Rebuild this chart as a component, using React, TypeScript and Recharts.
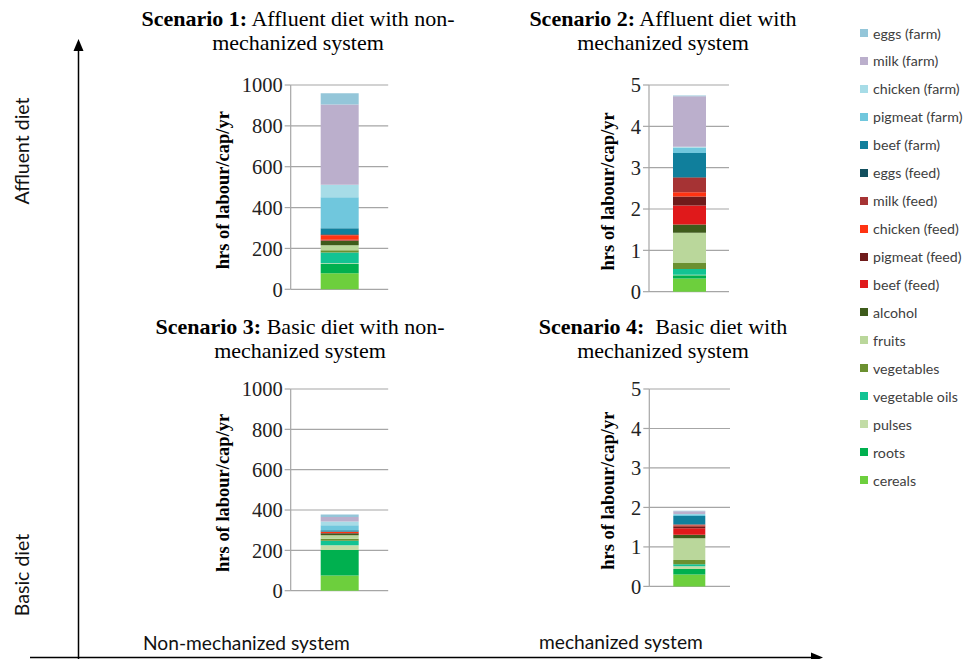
import { BarChart, Bar, XAxis, YAxis, CartesianGrid, Label } from 'recharts';

// stacked bottom -> top
const seriesNames = [
    'cereals', 'roots', 'pulses', 'vegetable oils', 'vegetables', 'fruits', 'alcohol',
    'beef (feed)', 'pigmeat (feed)', 'chicken (feed)', 'milk (feed)', 'eggs (feed)',
    'beef (farm)', 'pigmeat (farm)', 'chicken (farm)', 'milk (farm)', 'eggs (farm)'
];
const seriesColors = [
    '#6dcf3d', '#00b04f', '#c2dca6', '#12c393', '#6b9030', '#bad79b', '#3e5b1b',
    '#e0191b', '#6f1b1b', '#ff3312', '#a63334', '#124f5e',
    '#107f9c', '#70c7dd', '#a7dce7', '#bbafcc', '#94c6d9'
];

const scenario1 = [79, 45, 3, 53, 11, 24, 23, 2, 3, 22, 2, 4, 28, 152, 61, 393, 55];
const scenario2 = [0.32, 0.08, 0.01, 0.14, 0.145, 0.73, 0.2, 0.46, 0.22, 0.1, 0.36, 0.01, 0.58, 0.13, 0.02, 1.22, 0.02];
const scenario3 = [75, 127, 23, 22, 10, 18, 8, 1, 2, 5, 1, 2, 6, 25, 18, 22, 13];
const scenario4 = [0.3, 0.14, 0.07, 0.05, 0.11, 0.55, 0.085, 0.17, 0.05, 0.02, 0.02, 0.01, 0.21, 0.04, 0.01, 0.07, 0.01];

const ticksNonMech = [0, 200, 400, 600, 800, 1000];
const ticksMech = [0, 1, 2, 3, 4, 5];

const yLabel = 'hrs of labour/cap/yr';
const gridColor = '#a6a6a6';

function toRow(name: string, values: number[]) {
    const row: Record<string, number | string> = { name };
    seriesNames.forEach((n, i) => { row[n] = values[i]; });
    return row;
}

type PanelProps = {
    values: number[],
    ticks: number[],
    x: number, y: number, w: number, h: number,
    barSize: number,
    labelX: number
}

function Panel({ values, ticks, x, y, w, h, barSize, labelX }: PanelProps) {
    const left = labelX - 14;
    const yw = x - left;
    const top = y - 14;
    const data = [toRow('s', values)];
    return (
        <div style={{ position: 'absolute', left, top }}>
            <BarChart width={yw + w + 2} height={h + 28} data={data} margin={{ top: 14, right: 2, bottom: 14, left: 0 }}>
                <CartesianGrid vertical={false} stroke={gridColor} strokeWidth={1.2} />
                <XAxis dataKey="name" hide />
                <YAxis
                    width={yw}
                    domain={[0, ticks[ticks.length - 1]]}
                    ticks={ticks}
                    interval={0}
                    axisLine={{ stroke: gridColor, strokeWidth: 1.2 }}
                    tickLine={{ stroke: gridColor, strokeWidth: 1.2 }}
                    tickSize={6}
                    tickMargin={2}
                    tick={{ fontFamily: 'Liberation Serif', fontSize: 20.5, fill: '#222' }}
                >
                    <Label content={() => (
                        <text
                            transform={`translate(14,${14 + h / 2 + 3}) rotate(-90)`}
                            textAnchor="middle"
                            dominantBaseline="central"
                            fontFamily="Liberation Serif"
                            fontWeight="bold"
                            fontSize={18.5}
                            fill="#000"
                        >{yLabel}</text>
                    )} />
                </YAxis>
                {seriesNames.map((n, i) => (
                    <Bar key={n} dataKey={n} stackId="a" fill={seriesColors[i]} barSize={barSize} isAnimationActive={false} />
                ))}
            </BarChart>
        </div>
    );
}

function Title({ cx, top, bold, rest, line2 }: { cx: number, top: number, bold: string, rest: string, line2: string }) {
    return (
        <div style={{
            position: 'absolute', left: cx - 200, top, width: 400, textAlign: 'center',
            fontFamily: 'Liberation Serif', fontSize: 22, lineHeight: '24px', whiteSpace: 'pre', color: '#000'
        }}>
            <b>{bold}</b>{rest}<br />{line2}
        </div>
    );
}

export default function App() {
    const sans = 'Lato';
    return (
        <div style={{ position: 'absolute', left: 0, top: 0, width: 966, height: 659, background: '#fff', overflow: 'hidden' }}>
            <svg width={966} height={659} style={{ position: 'absolute', left: 0, top: 0 }}>
                <line x1={78.5} y1={50} x2={78.5} y2={659} stroke="#000" strokeWidth={1.5} />
                <polygon points="78.5,39 73.5,51 83.5,51" fill="#000" />
                <line x1={30} y1={657.5} x2={812} y2={657.5} stroke="#000" strokeWidth={1.5} />
                <polygon points="823,657.5 811,652.5 811,662.5" fill="#000" />
                <text transform="translate(29,151) rotate(-90)" textAnchor="middle" fontFamily={sans} fontSize={19.5} fill="#111">Affluent diet</text>
                <text transform="translate(29,575) rotate(-90)" textAnchor="middle" fontFamily={sans} fontSize={19.5} fill="#111">Basic diet</text>
                <text x={143} y={650} fontFamily={sans} fontSize={19.2} fill="#111">Non-mechanized system</text>
                <text x={539} y={649} fontFamily={sans} fontSize={19.2} fill="#111">mechanized system</text>
            </svg>

            <Title cx={298} top={7} bold="Scenario 1:" rest=" Affluent diet with non-" line2="mechanized system" />
            <Title cx={663} top={7} bold="Scenario 2:" rest=" Affluent diet with" line2="mechanized system" />
            <Title cx={300} top={315} bold="Scenario 3:" rest=" Basic diet with non-" line2="mechanized system" />
            <Title cx={663} top={315} bold="Scenario 4:" rest="  Basic diet with" line2="mechanized system" />

            <Panel values={scenario1} ticks={ticksNonMech} x={290.7} y={85} w={97.5} h={204.3} barSize={38} labelX={223} />
            <Panel values={scenario2} ticks={ticksMech} x={649} y={85} w={80} h={206.7} barSize={33} labelX={608} />
            <Panel values={scenario3} ticks={ticksNonMech} x={290.7} y={389.3} w={97.5} h={201.7} barSize={38} labelX={223} />
            <Panel values={scenario4} ticks={ticksMech} x={649.3} y={389.3} w={80.7} h={197.4} barSize={32} labelX={608} />

            <div style={{ position: 'absolute', left: 860, top: 0 }}>
                {seriesNames.map((n, i) => seriesNames.length - 1 - i).map((idx, k) => (
                    <div key={seriesNames[idx]} style={{
                        position: 'absolute', top: 33 + k * 27.94 - 9, left: 0, height: 18,
                        display: 'flex', alignItems: 'center', whiteSpace: 'nowrap',
                        fontFamily: sans, fontSize: 14.2, color: '#404040'
                    }}>
                        <span style={{ display: 'inline-block', width: 8, height: 8, background: seriesColors[idx], marginRight: 5 }} />
                        {seriesNames[idx]}
                    </div>
                ))}
            </div>
        </div>
    );
}
